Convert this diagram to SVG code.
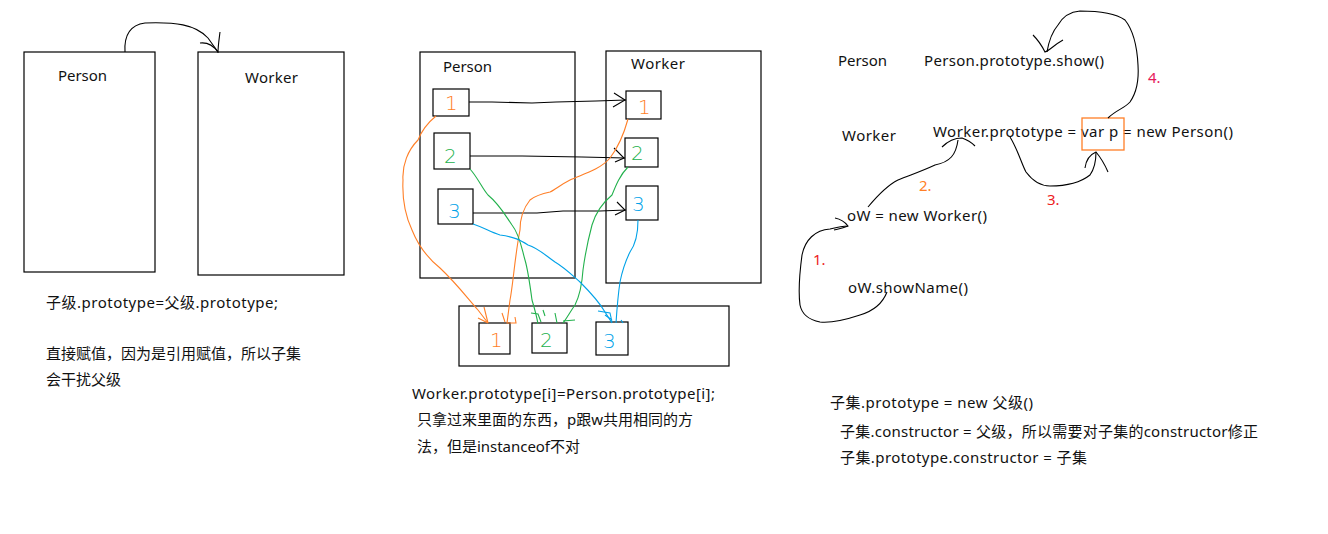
<svg xmlns="http://www.w3.org/2000/svg" width="1328" height="534" viewBox="0 0 1328 534">
<defs>
<style>
.box{fill:none;stroke:#000;stroke-width:1.2}
.t{font-family:"Noto Sans","Noto Sans CJK SC",sans-serif;font-size:15px;fill:#111}
.cn{font-family:"Noto Sans","Noto Sans CJK SC",sans-serif;font-size:15px;fill:#111}
.ln{fill:none;stroke:#000;stroke-width:1.1}
.or{fill:none;stroke:#ff7f27;stroke-width:1.1}
.gr{fill:none;stroke:#22b14c;stroke-width:1.1}
.bl{fill:none;stroke:#00a2e8;stroke-width:1.1}
.dg{font-family:"DejaVu Sans",sans-serif;font-size:20px;font-weight:200}
</style>
</defs>
<rect width="1328" height="534" fill="#fff"/>

<!-- Left section -->
<g id="left-person"><rect class="box" x="24" y="52" width="131" height="220"/><text class="t" x="58" y="81" textLength="49" lengthAdjust="spacing">Person</text></g>
<g id="left-worker"><rect class="box" x="198" y="52" width="146" height="223"/><text class="t" x="245" y="83" textLength="53" lengthAdjust="spacing">Worker</text></g>
<g id="left-text">
<text class="cn" x="46" y="308" textLength="232" lengthAdjust="spacing">子级.prototype=父级.prototype;</text>
<text class="cn" x="46" y="359" textLength="255" lengthAdjust="spacing">直接赋值，因为是引用赋值，所以子集</text>
<text class="cn" x="46" y="385" textLength="75" lengthAdjust="spacing">会干扰父级</text>
</g>

<!-- Middle section -->
<g id="mid-person"><rect class="box" x="420" y="52" width="155" height="226"/><text class="t" x="443" y="72" textLength="49" lengthAdjust="spacing">Person</text></g>
<g id="mid-worker"><rect class="box" x="606" y="51" width="155" height="232"/><text class="t" x="631" y="69" textLength="54" lengthAdjust="spacing">Worker</text></g>
<g id="mid-p1"><rect class="box" x="433" y="89" width="36" height="27"/><text class="dg" x="445" y="110" fill="#ff7f27">1</text></g>
<g id="mid-p2"><rect class="box" x="434" y="133" width="36" height="36"/><text class="dg" x="444" y="163" fill="#22b14c">2</text></g>
<g id="mid-p3"><rect class="box" x="438" y="189" width="35" height="35"/><text class="dg" x="448" y="218" fill="#00a2e8">3</text></g>
<g id="mid-w1"><rect class="box" x="626" y="91" width="35" height="28"/><text class="dg" x="638" y="114" fill="#ff7f27">1</text></g>
<g id="mid-w2"><rect class="box" x="625" y="138" width="33" height="29"/><text class="dg" x="631" y="160" fill="#22b14c">2</text></g>
<g id="mid-w3"><rect class="box" x="626" y="186" width="32" height="34"/><text class="dg" x="632" y="211" fill="#00a2e8">3</text></g>
<g id="mid-bottom"><rect class="box" x="459" y="306" width="270" height="60"/></g>
<g id="mid-b1"><rect class="box" x="479" y="323" width="31" height="31"/><text class="dg" x="490" y="347" fill="#ff7f27">1</text></g>
<g id="mid-b2"><rect class="box" x="532" y="323" width="35" height="30"/><text class="dg" x="540" y="347" fill="#22b14c">2</text></g>
<g id="mid-b3"><rect class="box" x="596" y="322" width="32" height="33"/><text class="dg" x="603" y="348" fill="#00a2e8">3</text></g>
<g id="mid-text">
<text class="cn" x="412" y="399" textLength="303" lengthAdjust="spacing">Worker.prototype[i]=Person.prototype[i];</text>
<text class="cn" x="417" y="425" textLength="276" lengthAdjust="spacing">只拿过来里面的东西，p跟w共用相同的方</text>
<text class="cn" x="417" y="452" textLength="163" lengthAdjust="spacing">法，但是instanceof不对</text>
</g>

<!-- Right section -->
<g id="r-person"><text class="t" x="838" y="66" textLength="49" lengthAdjust="spacing">Person</text></g>
<g id="r-personproto"><text class="t" x="924" y="66" textLength="180" lengthAdjust="spacing">Person.prototype.show()</text></g>
<g id="r-worker"><text class="t" x="842" y="141" textLength="54" lengthAdjust="spacing">Worker</text></g>
<g id="r-workerproto"><text class="t" x="933" y="137" textLength="300" lengthAdjust="spacing">Worker.prototype = var p = new Person()</text><rect x="1082" y="118" width="42" height="32" fill="none" stroke="#ff7f27" stroke-width="1.3"/></g>
<g id="r-ow"><text class="t" x="847" y="221" textLength="140" lengthAdjust="spacing">oW = new Worker()</text></g>
<g id="r-showname"><text class="t" x="848" y="293" textLength="120" lengthAdjust="spacing">oW.showName()</text></g>
<g id="r-labels" font-family="Noto Sans,sans-serif" font-size="15px">
<text x="813" y="265" fill="#ed1c24">1.</text>
<text x="919" y="191" fill="#ff7f27">2.</text>
<text x="1047" y="205" fill="#ed1c24">3.</text>
<text x="1148" y="83" fill="#e6195a">4.</text>
</g>
<g id="r-text">
<text class="cn" x="830" y="408" textLength="203" lengthAdjust="spacing">子集.prototype = new 父级()</text>
<text class="cn" x="840" y="437" textLength="418" lengthAdjust="spacing">子集.constructor = 父级，所以需要对子集的constructor修正</text>
<text class="cn" x="840" y="463" textLength="247" lengthAdjust="spacing">子集.prototype.constructor = 子集</text>
</g>

<!-- Connectors -->
<g id="connectors">
<!-- left arc -->
<path class="ln" d="M125,52 C124,36 130,25 145,23 C175,22 195,24 208,38 L218,52"/>
<path class="ln" d="M200,43 C208,42 213,45 218,52 M220,32 C219,40 218,46 218,53"/>
<!-- middle black arrows -->
<path class="ln" d="M469,102 L492,102 L532,103 L556,102 L596,101 L626,100"/>
<path class="ln" d="M614,93 L625,100 L613,107"/>
<path class="ln" d="M470,156 L522,156 L582,157 L625,158"/>
<path class="ln" d="M614,148 L624,158 L615,162"/>
<path class="ln" d="M473,213 L537,213 L563,211 L600,211 L626,210"/>
<path class="ln" d="M617,202 L625,210 L615,215"/>
<!-- orange -->
<path class="or" d="M436,116 C425,125 420,135 418,140 C408,150 402,165 403,180 C402,200 405,215 412,230 C420,250 430,260 440,268 C455,282 465,295 478,310 L488,323"/>
<path class="or" d="M478,318 L488,323 M484,307 L488,323"/>
<path class="or" d="M628,119 C625,130 620,145 610,158 C600,170 580,175 570,180 C560,185 555,190 550,192 C540,194 535,196 530,200 C522,210 520,220 520,230 C515,255 513,285 510,300 L507,323 L516,323 L515,317"/>
<path class="or" d="M502,313 L505,322"/>
<!-- green -->
<path class="gr" d="M470,169 C478,178 482,188 488,195 C500,205 505,215 512,225 C520,235 522,250 525,260 C528,270 530,285 532,300 C535,310 537,318 538,324"/>
<path class="gr" d="M531,313 L538,314 L541,322 M543,310 L545,316"/>
<path class="gr" d="M628,167 C620,175 616,185 612,195 C600,205 595,215 592,225 C588,240 585,255 583,270 C582,285 580,295 575,305 C570,312 567,318 563,323"/>
<path class="gr" d="M555,313 L557,323 M563,321 L575,320"/>
<!-- blue -->
<path class="bl" d="M473,224 C485,228 490,232 500,235 C515,237 520,240 528,245 C538,248 545,255 555,262 C565,268 572,275 580,282 C590,292 598,300 605,312 L612,323"/>
<path class="bl" d="M598,311 L610,313 L612,322 M605,315 L612,320"/>
<path class="bl" d="M638,220 C638,235 635,245 630,252 C625,262 622,272 620,282 C618,295 617,308 616,323"/>
<path class="bl" d="M621,320 L623,323"/>
<!-- right curves -->
<path class="ln" d="M887,292 C882,305 870,312 860,315 C845,320 830,323 820,322 C810,320 802,315 800,305 C798,290 800,270 802,255 C805,240 815,230 830,229 C838,227 845,226 848,226"/>
<path class="ln" d="M835,218 C840,219 845,222 848,226 C843,228 838,229 834,230"/>
<path class="ln" d="M868,207 C878,195 888,185 898,180 C910,175 920,172 935,165 C950,162 956,155 958,140"/>
<path class="ln" d="M942,147 C948,141 955,138 962,138 C968,140 972,143 975,146"/>
<path class="ln" d="M1010,137 C1018,150 1022,165 1026,172 C1032,180 1040,186 1050,186 C1065,186 1080,183 1090,175 C1095,168 1096,160 1096,152"/>
<path class="ln" d="M1085,168 C1086,160 1089,155 1096,152 C1101,158 1105,165 1108,172"/>
<path class="ln" d="M1108,118 C1116,110 1125,108 1130,102 C1137,92 1139,80 1138,65 C1137,45 1133,30 1125,20 C1115,13 1100,11 1080,11 C1068,12 1062,18 1058,25 C1052,32 1049,40 1047,52"/>
<path class="ln" d="M1033,35 C1038,40 1042,46 1045,52 C1050,50 1054,45 1063,40"/>
</g>
</svg>
